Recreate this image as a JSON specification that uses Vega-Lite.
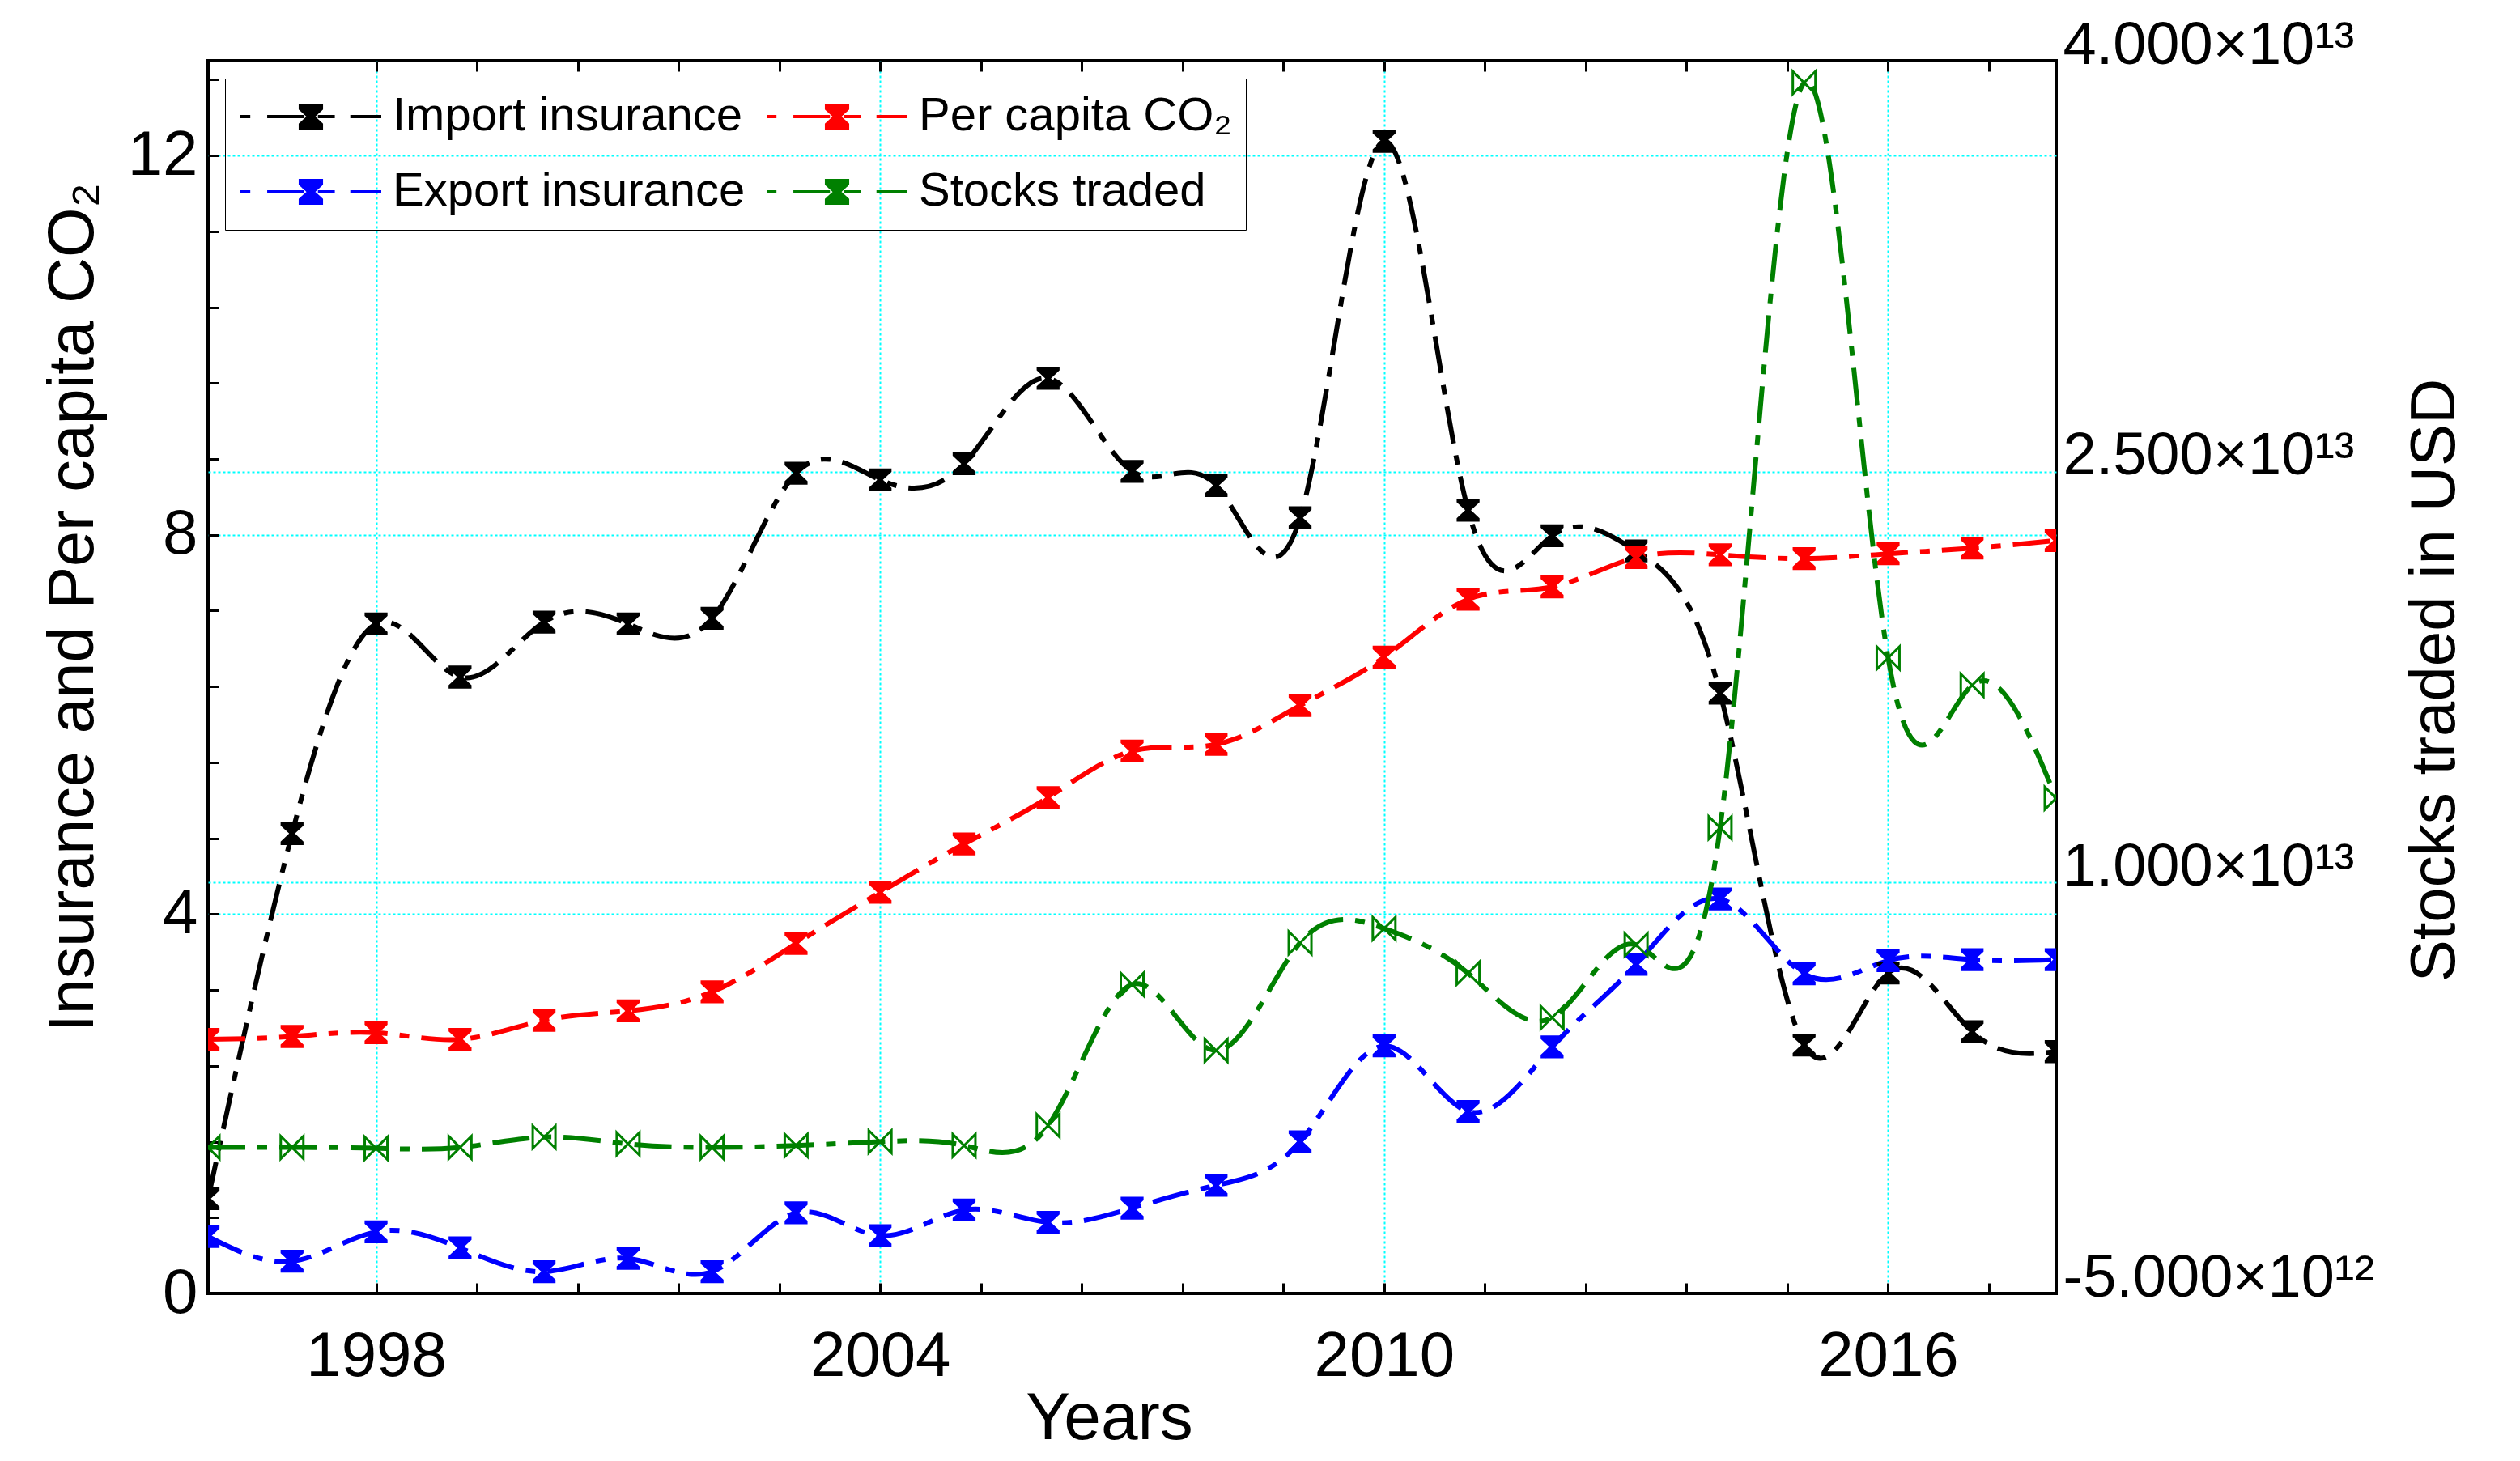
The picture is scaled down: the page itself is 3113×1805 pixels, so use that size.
{
  "$schema": "https://vega.github.io/schema/vega-lite/v6.json",
  "width": 2283,
  "height": 1523,
  "autosize": {"type": "none"},
  "padding": {"left": 257, "top": 75, "right": 573, "bottom": 207},
  "background": "white",
  "config": {
    "view": {"stroke": "black", "strokeWidth": 4},
    "font": "Liberation Sans",
    "axis": {
      "labelFont": "Liberation Sans",
      "titleFont": "Liberation Sans",
      "labelColor": "black",
      "titleColor": "black",
      "titleFontWeight": "normal",
      "gridColor": "#00FFFF",
      "gridDash": [3, 3],
      "gridWidth": 2,
      "tickColor": "black",
      "tickWidth": 3,
      "domain": false,
      "labelFlush": false,
      "labelOverlap": false,
      "labelLimit": 2000
    }
  },
  "datasets": {
    "left": [
      {"year": 1996, "series": "Import insurance", "value": 1.0},
      {"year": 1997, "series": "Import insurance", "value": 4.85},
      {"year": 1998, "series": "Import insurance", "value": 7.06},
      {"year": 1999, "series": "Import insurance", "value": 6.5},
      {"year": 2000, "series": "Import insurance", "value": 7.08},
      {"year": 2001, "series": "Import insurance", "value": 7.06},
      {"year": 2002, "series": "Import insurance", "value": 7.12},
      {"year": 2003, "series": "Import insurance", "value": 8.65},
      {"year": 2004, "series": "Import insurance", "value": 8.58},
      {"year": 2005, "series": "Import insurance", "value": 8.75},
      {"year": 2006, "series": "Import insurance", "value": 9.65},
      {"year": 2007, "series": "Import insurance", "value": 8.67},
      {"year": 2008, "series": "Import insurance", "value": 8.52},
      {"year": 2009, "series": "Import insurance", "value": 8.18},
      {"year": 2010, "series": "Import insurance", "value": 12.15},
      {"year": 2011, "series": "Import insurance", "value": 8.26},
      {"year": 2012, "series": "Import insurance", "value": 7.99},
      {"year": 2013, "series": "Import insurance", "value": 7.83},
      {"year": 2014, "series": "Import insurance", "value": 6.33},
      {"year": 2015, "series": "Import insurance", "value": 2.62},
      {"year": 2016, "series": "Import insurance", "value": 3.38},
      {"year": 2017, "series": "Import insurance", "value": 2.76},
      {"year": 2018, "series": "Import insurance", "value": 2.55},
      {"year": 1996, "series": "Export insurance", "value": 0.6},
      {"year": 1997, "series": "Export insurance", "value": 0.34},
      {"year": 1998, "series": "Export insurance", "value": 0.65},
      {"year": 1999, "series": "Export insurance", "value": 0.48},
      {"year": 2000, "series": "Export insurance", "value": 0.23},
      {"year": 2001, "series": "Export insurance", "value": 0.37},
      {"year": 2002, "series": "Export insurance", "value": 0.23},
      {"year": 2003, "series": "Export insurance", "value": 0.85},
      {"year": 2004, "series": "Export insurance", "value": 0.61},
      {"year": 2005, "series": "Export insurance", "value": 0.88},
      {"year": 2006, "series": "Export insurance", "value": 0.75},
      {"year": 2007, "series": "Export insurance", "value": 0.9},
      {"year": 2008, "series": "Export insurance", "value": 1.14},
      {"year": 2009, "series": "Export insurance", "value": 1.6},
      {"year": 2010, "series": "Export insurance", "value": 2.61},
      {"year": 2011, "series": "Export insurance", "value": 1.92},
      {"year": 2012, "series": "Export insurance", "value": 2.6},
      {"year": 2013, "series": "Export insurance", "value": 3.47},
      {"year": 2014, "series": "Export insurance", "value": 4.16},
      {"year": 2015, "series": "Export insurance", "value": 3.37},
      {"year": 2016, "series": "Export insurance", "value": 3.51},
      {"year": 2017, "series": "Export insurance", "value": 3.52},
      {"year": 2018, "series": "Export insurance", "value": 3.52},
      {"year": 1996, "series": "Per capita CO₂", "value": 2.68},
      {"year": 1997, "series": "Per capita CO₂", "value": 2.71},
      {"year": 1998, "series": "Per capita CO₂", "value": 2.75},
      {"year": 1999, "series": "Per capita CO₂", "value": 2.68},
      {"year": 2000, "series": "Per capita CO₂", "value": 2.88},
      {"year": 2001, "series": "Per capita CO₂", "value": 2.98},
      {"year": 2002, "series": "Per capita CO₂", "value": 3.18},
      {"year": 2003, "series": "Per capita CO₂", "value": 3.69},
      {"year": 2004, "series": "Per capita CO₂", "value": 4.23},
      {"year": 2005, "series": "Per capita CO₂", "value": 4.74},
      {"year": 2006, "series": "Per capita CO₂", "value": 5.23},
      {"year": 2007, "series": "Per capita CO₂", "value": 5.72},
      {"year": 2008, "series": "Per capita CO₂", "value": 5.79},
      {"year": 2009, "series": "Per capita CO₂", "value": 6.2},
      {"year": 2010, "series": "Per capita CO₂", "value": 6.71},
      {"year": 2011, "series": "Per capita CO₂", "value": 7.32},
      {"year": 2012, "series": "Per capita CO₂", "value": 7.45},
      {"year": 2013, "series": "Per capita CO₂", "value": 7.76},
      {"year": 2014, "series": "Per capita CO₂", "value": 7.79},
      {"year": 2015, "series": "Per capita CO₂", "value": 7.75},
      {"year": 2016, "series": "Per capita CO₂", "value": 7.8},
      {"year": 2017, "series": "Per capita CO₂", "value": 7.86},
      {"year": 2018, "series": "Per capita CO₂", "value": 7.94}
    ],
    "stocks": [
      {"year": 1996, "series": "Stocks traded", "value": 3.3e11},
      {"year": 1997, "series": "Stocks traded", "value": 3.3e11},
      {"year": 1998, "series": "Stocks traded", "value": 3.0e11},
      {"year": 1999, "series": "Stocks traded", "value": 3.3e11},
      {"year": 2000, "series": "Stocks traded", "value": 7.1e11},
      {"year": 2001, "series": "Stocks traded", "value": 4.6e11},
      {"year": 2002, "series": "Stocks traded", "value": 3.3e11},
      {"year": 2003, "series": "Stocks traded", "value": 4.0e11},
      {"year": 2004, "series": "Stocks traded", "value": 5.4e11},
      {"year": 2005, "series": "Stocks traded", "value": 4.0e11},
      {"year": 2006, "series": "Stocks traded", "value": 1.13e12},
      {"year": 2007, "series": "Stocks traded", "value": 6.28e12},
      {"year": 2008, "series": "Stocks traded", "value": 3.87e12},
      {"year": 2009, "series": "Stocks traded", "value": 7.8e12},
      {"year": 2010, "series": "Stocks traded", "value": 8.32e12},
      {"year": 2011, "series": "Stocks traded", "value": 6.69e12},
      {"year": 2012, "series": "Stocks traded", "value": 5.07e12},
      {"year": 2013, "series": "Stocks traded", "value": 7.73e12},
      {"year": 2014, "series": "Stocks traded", "value": 1.2e13},
      {"year": 2015, "series": "Stocks traded", "value": 3.92e13},
      {"year": 2016, "series": "Stocks traded", "value": 1.82e13},
      {"year": 2017, "series": "Stocks traded", "value": 1.72e13},
      {"year": 2018, "series": "Stocks traded", "value": 1.308e13}
    ]
  },
  "layer": [
    {
      "data": {"name": "left"},
      "resolve": {"axis": {"x": "independent", "y": "independent"}},
      "layer": [
        {
          "mark": {"type": "line", "interpolate": "natural", "strokeWidth": 6, "strokeDash": [46, 15, 12, 15], "clip": true},
          "encoding": {
            "x": {
              "field": "year", "type": "quantitative",
              "scale": {"domain": [1996, 2018], "nice": false, "zero": false},
              "axis": {
                "orient": "bottom",
                "values": [1998, 1999.2, 2000.4, 2001.6, 2002.8, 2004, 2005.2, 2006.4, 2007.6, 2008.8, 2010, 2011.2, 2012.4, 2013.6, 2014.8, 2016, 2017.2],
                "labelExpr": "indexof([1998, 2004, 2010, 2016], datum.value) >= 0 ? format(datum.value, 'd') : ''",
                "labelFontSize": 78,
                "labelPadding": 52,
                "ticks": true,
                "tickSize": -13,
                "grid": false,
                "title": "Years",
                "titleFontSize": 82,
                "titleX": 1113,
                "titleY": 179,
                "titleBaseline": "alphabetic",
                "titleAlign": "center"
              }
            },
            "y": {
              "field": "value", "type": "quantitative",
              "scale": {"domain": [0, 13], "nice": false, "zero": false},
              "axis": {
                "orient": "left",
                "values": [0, 0.8, 1.6, 2.4, 3.2, 4, 4.8, 5.6, 6.4, 7.2, 8, 8.8, 9.6, 10.4, 11.2, 12, 12.8],
                "labelExpr": "indexof([0, 4, 8, 12], datum.value) >= 0 ? format(datum.value, 'd') : ''",
                "labelFontSize": 78,
                "labelPadding": 26,
                "ticks": true,
                "tickSize": -13,
                "grid": false,
                "title": "Insurance and Per capita CO₂",
                "titleFontSize": 79,
                "titleAngle": -90,
                "titleX": -143,
                "titleY": 675,
                "titleBaseline": "alphabetic",
                "titleAlign": "center"
              }
            },
            "color": {
              "field": "series", "type": "nominal",
              "scale": {
                "domain": ["Import insurance", "Per capita CO₂", "Export insurance", "Stocks traded"],
                "range": ["#000000", "#FF0000", "#0000FF", "#008000"]
              },
              "legend": {
                "orient": "none",
                "legendX": 21,
                "legendY": 22,
                "direction": "horizontal",
                "columns": 2,
                "title": null,
                "labelFont": "Liberation Sans",
                "labelFontSize": 58,
                "labelColor": "black",
                "labelLimit": 3000,
                "labelOffset": 12,
                "symbolSize": 30276,
                "symbolStrokeWidth": 4,
                "symbolDash": [1, 0],
                "symbolType": "M-1,0L-0.86,0M-0.62,0L-0.1,0M0.1,0L0.34,0M0.56,0L1,0M-0.15,-0.16L0.15,-0.16L0.15,-0.11L0.03,0L0.15,0.11L0.15,0.16L-0.15,0.16L-0.15,0.11L-0.03,0L-0.15,-0.11Z",
                "clipHeight": 60,
                "rowPadding": 33,
                "columnPadding": 24,
                "padding": 17,
                "strokeColor": "black"
              }
            }
          }
        },
        {
          "mark": {"type": "point", "shape": "M-1,-1L1,-1L1,-0.7L0.25,0L1,0.7L1,1L-1,1L-1,0.7L-0.25,0L-1,-0.7Z", "filled": true, "size": 800, "opacity": 1, "clip": true},
          "encoding": {
            "x": {
              "field": "year", "type": "quantitative",
              "scale": {"domain": [1996, 2018], "nice": false, "zero": false},
              "axis": {"orient": "bottom", "values": [1998, 2004, 2010, 2016], "grid": true, "ticks": false, "labels": false, "title": null}
            },
            "y": {
              "field": "value", "type": "quantitative",
              "scale": {"domain": [0, 13], "nice": false, "zero": false},
              "axis": {"orient": "left", "values": [4, 8, 12], "grid": true, "ticks": false, "labels": false, "title": null}
            },
            "color": {"field": "series", "type": "nominal"}
          }
        }
      ]
    },
    {
      "data": {"name": "stocks"},
      "resolve": {"axis": {"x": "independent", "y": "independent"}},
      "layer": [
        {
          "mark": {"type": "line", "interpolate": "natural", "strokeWidth": 6, "strokeDash": [46, 15, 12, 15], "clip": true},
          "encoding": {
            "x": {
              "field": "year", "type": "quantitative",
              "scale": {"domain": [1996, 2018], "nice": false, "zero": false},
              "axis": {
                "orient": "top",
                "values": [1998, 1999.2, 2000.4, 2001.6, 2002.8, 2004, 2005.2, 2006.4, 2007.6, 2008.8, 2010, 2011.2, 2012.4, 2013.6, 2014.8, 2016, 2017.2],
                "labels": false,
                "ticks": true,
                "tickSize": -13,
                "grid": false,
                "title": null
              }
            },
            "y": {
              "field": "value", "type": "quantitative",
              "scale": {"domain": [-5e12, 4e13], "nice": false, "zero": false},
              "axis": {
                "orient": "right",
                "values": [-5e12, 1e13, 2.5e13, 4e13],
                "labelExpr": "abs(datum.value) < 1e13 ? (datum.value < 0 ? '-' : '') + format(abs(datum.value) / 1e12, '.3f') + '×10¹²' : format(datum.value / 1e13, '.3f') + '×10¹³'",
                "labelFontSize": 74,
                "labelPadding": 8,
                "labelOffset": -19,
                "labelAlign": "left",
                "labelBaseline": "middle",
                "ticks": false,
                "grid": false,
                "title": "Stocks traded in USD",
                "titleFontSize": 78,
                "titleAngle": -90,
                "titleX": 491,
                "titleY": 765,
                "titleBaseline": "alphabetic",
                "titleAlign": "center"
              }
            },
            "color": {"field": "series", "type": "nominal"}
          }
        },
        {
          "mark": {"type": "point", "shape": "M-1,-1L-1,1L1,-1L1,1Z", "filled": false, "size": 784, "strokeWidth": 3, "opacity": 1, "clip": true},
          "encoding": {
            "x": {"field": "year", "type": "quantitative", "scale": {"domain": [1996, 2018], "nice": false, "zero": false}, "axis": null},
            "y": {
              "field": "value", "type": "quantitative",
              "scale": {"domain": [-5e12, 4e13], "nice": false, "zero": false},
              "axis": {"orient": "right", "values": [1e13, 2.5e13], "grid": true, "ticks": false, "labels": false, "title": null}
            },
            "color": {"field": "series", "type": "nominal"}
          }
        }
      ]
    }
  ],
  "resolve": {"scale": {"y": "independent"}, "axis": {"x": "independent"}}
}
